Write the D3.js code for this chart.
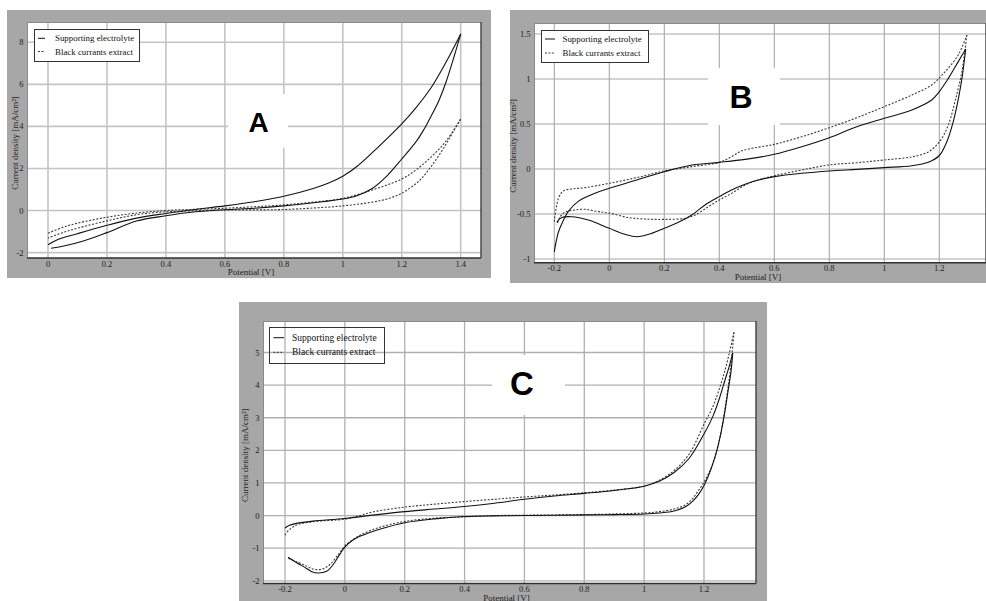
<!DOCTYPE html>
<html>
<head>
<meta charset="utf-8">
<script src="https://cdn.jsdelivr.net/npm/d3@7/dist/d3.min.js"></script>
<style>
  body { margin: 0; background: #ffffff; }
  svg { display: block; }
</style>
</head>
<body>
<svg id="fig" width="986" height="601"></svg>
<script>
// ---------------------------------------------------------------
// Cyclic voltammograms: supporting electrolyte vs. black currants
// extract on three electrodes (panels A, B, C).
// Each curve is stored as two branches of [potential V, current mA/cm2].
// ---------------------------------------------------------------
const seriesNames = ["Supporting electrolyte", "Black currants extract"];
const xTitle = "Potential [V]";
const yTitle = "Current density [mA/cm\u00B2]";

// Panel A
const aLetter = "A";
const aXTicks = [0, 0.2, 0.4, 0.6, 0.8, 1, 1.2, 1.4];
const aYTicks = [-2, 0, 2, 4, 6, 8];
const aElectrolyteUp = [[0,-1.63],[0.03,-1.4],[0.1,-1.1],[0.2,-0.7],[0.3,-0.36],[0.4,-0.14],[0.5,0.05],[0.6,0.22],[0.7,0.42],[0.8,0.68],[0.9,1.05],[0.95,1.3],[1.0,1.63],[1.05,2.12],[1.1,2.75],[1.15,3.42],[1.2,4.12],[1.25,4.92],[1.3,5.85],[1.35,7.05],[1.4,8.4]];
const aElectrolyteDown = [[1.4,8.4],[1.375,7.2],[1.35,6.1],[1.325,5.2],[1.3,4.5],[1.275,3.85],[1.25,3.3],[1.2,2.45],[1.15,1.65],[1.1,1.05],[1.05,0.72],[1.0,0.55],[0.9,0.37],[0.8,0.22],[0.7,0.11],[0.6,0.04],[0.5,-0.06],[0.4,-0.25],[0.3,-0.5],[0.2,-1.05],[0.12,-1.45],[0.05,-1.7],[0.01,-1.79]];
const aExtractUp = [[0,-1.08],[0.05,-0.8],[0.1,-0.6],[0.2,-0.32],[0.3,-0.12],[0.4,0.0],[0.5,0.06],[0.6,0.11],[0.7,0.18],[0.8,0.27],[0.9,0.4],[1.0,0.58],[1.1,0.98],[1.2,1.5],[1.25,1.95],[1.3,2.55],[1.35,3.3],[1.4,4.35]];
const aExtractDown = [[1.4,4.35],[1.375,3.75],[1.35,3.15],[1.325,2.6],[1.3,2.1],[1.275,1.65],[1.25,1.3],[1.2,0.82],[1.15,0.55],[1.1,0.4],[1.0,0.22],[0.9,0.12],[0.8,0.05],[0.7,0.03],[0.6,0.03],[0.5,-0.01],[0.4,-0.06],[0.3,-0.2],[0.2,-0.49],[0.1,-0.84],[0.05,-1.05],[0,-1.31]];

// Panel B
const bLetter = "B";
const bXTicks = [-0.2, 0, 0.2, 0.4, 0.6, 0.8, 1, 1.2];
const bYTicks = [-1, -0.5, 0, 0.5, 1, 1.5];
const bElectrolyteUp = [[-0.2,-0.92],[-0.185,-0.7],[-0.167,-0.57],[-0.149,-0.47],[-0.113,-0.36],[-0.052,-0.27],[0,-0.215],[0.1,-0.122],[0.2,-0.03],[0.3,0.044],[0.4,0.074],[0.494,0.107],[0.6,0.163],[0.7,0.248],[0.8,0.348],[0.9,0.47],[1.0,0.563],[1.1,0.656],[1.172,0.767],[1.2,0.859],[1.233,1.007],[1.269,1.193],[1.296,1.333]];
const bElectrolyteDown = [[1.296,1.333],[1.284,1.04],[1.27,0.79],[1.251,0.53],[1.227,0.3],[1.2,0.15],[1.16,0.075],[1.1,0.037],[1.0,0.015],[0.9,-0.004],[0.8,-0.022],[0.7,-0.048],[0.6,-0.085],[0.542,-0.122],[0.494,-0.17],[0.445,-0.233],[0.4,-0.307],[0.348,-0.4],[0.3,-0.511],[0.251,-0.593],[0.2,-0.659],[0.154,-0.715],[0.1,-0.752],[0.057,-0.726],[0,-0.659],[-0.076,-0.567],[-0.137,-0.53],[-0.173,-0.54],[-0.191,-0.593]];
const bExtractUp = [[-0.2,-0.585],[-0.185,-0.326],[-0.167,-0.244],[-0.137,-0.222],[-0.088,-0.207],[0,-0.159],[0.1,-0.096],[0.2,-0.022],[0.3,0.026],[0.4,0.074],[0.445,0.137],[0.475,0.193],[0.506,0.222],[0.6,0.274],[0.7,0.359],[0.8,0.459],[0.9,0.57],[1.0,0.693],[1.1,0.822],[1.172,0.933],[1.221,1.081],[1.269,1.267],[1.3,1.489]];
const bExtractDown = [[1.3,1.489],[1.282,1.08],[1.257,0.75],[1.233,0.49],[1.2,0.3],[1.16,0.19],[1.1,0.135],[1.0,0.1],[0.9,0.07],[0.8,0.045],[0.7,-0.011],[0.6,-0.075],[0.542,-0.122],[0.494,-0.178],[0.445,-0.27],[0.4,-0.344],[0.36,-0.42],[0.312,-0.511],[0.275,-0.548],[0.2,-0.56],[0.13,-0.556],[0.07,-0.54],[0,-0.49],[-0.04,-0.474],[-0.088,-0.448],[-0.125,-0.455],[-0.161,-0.48],[-0.179,-0.53],[-0.191,-0.622]];

// Panel C
const cLetter = "C";
const cXTicks = [-0.2, 0, 0.2, 0.4, 0.6, 0.8, 1, 1.2];
const cYTicks = [-2, -1, 0, 1, 2, 3, 4, 5];
const cElectrolyteUp = [[-0.2,-0.38],[-0.185,-0.3],[-0.162,-0.24],[-0.107,-0.17],[0,-0.09],[0.1,0.02],[0.2,0.12],[0.3,0.2],[0.4,0.28],[0.5,0.38],[0.6,0.5],[0.7,0.6],[0.8,0.68],[0.9,0.77],[1.0,0.9],[1.05,1.05],[1.1,1.32],[1.15,1.75],[1.2,2.5],[1.23,3.05],[1.25,3.55],[1.27,4.15],[1.285,4.6],[1.296,4.98]];
const cElectrolyteDown = [[1.296,4.98],[1.29,4.4],[1.28,3.8],[1.27,3.2],[1.258,2.6],[1.243,2.0],[1.228,1.55],[1.216,1.25],[1.2,0.92],[1.182,0.65],[1.16,0.42],[1.138,0.27],[1.1,0.14],[1.05,0.08],[1.0,0.05],[0.9,0.03],[0.8,0.02],[0.6,0.0],[0.5,-0.01],[0.4,-0.03],[0.3,-0.1],[0.2,-0.22],[0.116,-0.42],[0.06,-0.6],[0.027,-0.75],[0,-0.97],[-0.017,-1.19],[-0.039,-1.5],[-0.061,-1.71],[-0.09,-1.76],[-0.11,-1.72],[-0.128,-1.62],[-0.162,-1.44],[-0.19,-1.28]];
const cExtractUp = [[-0.2,-0.6],[-0.19,-0.47],[-0.178,-0.38],[-0.162,-0.29],[-0.107,-0.19],[0,-0.11],[0.05,0.0],[0.093,0.11],[0.2,0.26],[0.3,0.35],[0.4,0.43],[0.5,0.5],[0.6,0.57],[0.7,0.63],[0.8,0.7],[0.9,0.78],[1.0,0.9],[1.05,1.08],[1.1,1.38],[1.15,1.88],[1.2,2.8],[1.23,3.35],[1.25,3.85],[1.27,4.45],[1.285,5.0],[1.3,5.62]];
const cExtractDown = [[1.3,5.62],[1.293,4.9],[1.283,4.1],[1.272,3.4],[1.26,2.7],[1.246,2.1],[1.23,1.6],[1.215,1.28],[1.2,1.02],[1.18,0.75],[1.16,0.5],[1.138,0.33],[1.1,0.2],[1.05,0.12],[1.0,0.08],[0.9,0.05],[0.8,0.03],[0.6,0.01],[0.5,0.0],[0.4,-0.04],[0.3,-0.08],[0.2,-0.18],[0.116,-0.36],[0.06,-0.56],[0.03,-0.72],[0,-0.93],[-0.02,-1.17],[-0.05,-1.5],[-0.07,-1.62],[-0.09,-1.66],[-0.11,-1.63],[-0.128,-1.55],[-0.16,-1.42],[-0.19,-1.31]];

// ---------------------------------------------------------------
// Page layout of the three panels (pixels)
// ---------------------------------------------------------------
const panels = [
  {
    letter: aLetter, xTicks: aXTicks, yTicks: aYTicks,
    solid: [aElectrolyteUp, aElectrolyteDown], dashed: [aExtractUp, aExtractDown],
    frame: [7, 10, 491, 278], plot: [27, 22, 481, 258],
    xRange: [48, 460.7], yRange: [252.6, 42.3],
    grid: { color: "#c4c4c4", width: 1.6 },
    letterBox: [228, 94, 288, 148], letterPos: [258.5, 122], letterSize: 28,
    legend: { box: [34, 29, 139, 61], rows: [38.3, 51.5], sample: [38, 45], textX: 55, size: 8.9, fill: "#ffffff" },
    yTitleX: 14.5, xTitleY: 275, xTickY: 267
  },
  {
    letter: bLetter, xTicks: bXTicks, yTicks: bYTicks,
    solid: [bElectrolyteUp, bElectrolyteDown], dashed: [bExtractUp, bExtractDown],
    frame: [510, 10, 992, 283], plot: [534, 23, 986, 262.7],
    xRange: [554.3, 939.3], yRange: [259, 34],
    grid: { color: "#a8a8a8", width: 1.1 },
    letterBox: [708, 68, 780, 125], letterPos: [741, 97], letterSize: 32,
    legend: { box: [541, 30, 648, 62], rows: [39, 53], sample: [545, 555], textX: 562.5, size: 8.9, fill: "#ffffff" },
    yTitleX: 513, xTitleY: 280, xTickY: 271
  },
  {
    letter: cLetter, xTicks: cXTicks, yTicks: cYTicks,
    solid: [cElectrolyteUp, cElectrolyteDown], dashed: [cExtractUp, cExtractDown],
    frame: [239, 302, 767, 612], plot: [263, 321, 756, 583.5],
    xRange: [285, 704], yRange: [580.8, 352.5],
    grid: { color: "#b0b0b0", width: 1.3 },
    letterBox: [492, 355, 565, 415], letterPos: [522, 383], letterSize: 33,
    legend: { box: [269, 327, 384, 363], rows: [337.7, 352.3], sample: [273.5, 284], textX: 292, size: 9.5, fill: "none" },
    yTitleX: 245, xTitleY: 600.5, xTickY: 592
  }
];

const tickText = v => String(Math.round(v * 10) / 10);
const serif = "'Liberation Serif', 'Times New Roman', serif";

const svg = d3.select("#fig");

panels.forEach((p, i) => {
  const g = svg.append("g");
  const [fx0, fy0, fx1, fy1] = p.frame;
  const [px0, py0, px1, py1] = p.plot;

  const x = d3.scaleLinear()
    .domain([p.xTicks[0], p.xTicks[p.xTicks.length - 1]])
    .range(p.xRange);
  const y = d3.scaleLinear()
    .domain([p.yTicks[0], p.yTicks[p.yTicks.length - 1]])
    .range(p.yRange);

  // grey window frame
  g.append("rect")
    .attr("x", fx0).attr("y", fy0)
    .attr("width", fx1 - fx0).attr("height", fy1 - fy0)
    .attr("fill", "#a7a7a7");

  // white plotting area
  g.append("rect")
    .attr("x", px0).attr("y", py0)
    .attr("width", px1 - px0).attr("height", py1 - py0)
    .attr("fill", "#ffffff");

  // grid
  const grid = g.append("g")
    .attr("stroke", p.grid.color)
    .attr("stroke-width", p.grid.width);
  grid.selectAll("line.v").data(p.xTicks).join("line")
    .attr("class", "v")
    .attr("x1", d => x(d)).attr("x2", d => x(d))
    .attr("y1", py0).attr("y2", py1);
  grid.selectAll("line.h").data(p.yTicks).join("line")
    .attr("class", "h")
    .attr("x1", px0).attr("x2", px1)
    .attr("y1", d => y(d)).attr("y2", d => y(d));

  // sunken border of the plotting area
  g.append("line").attr("x1", px0).attr("x2", px1).attr("y1", py0 + 0.5).attr("y2", py0 + 0.5)
    .attr("stroke", "#8a8a8a").attr("stroke-width", 1);
  g.append("line").attr("x1", px0 + 0.5).attr("x2", px0 + 0.5).attr("y1", py0).attr("y2", py1)
    .attr("stroke", "#8a8a8a").attr("stroke-width", 1);
  g.append("line").attr("x1", px0).attr("x2", px1).attr("y1", py1).attr("y2", py1)
    .attr("stroke", "#303030").attr("stroke-width", 1.6);
  g.append("line").attr("x1", px1).attr("x2", px1).attr("y1", py0).attr("y2", py1)
    .attr("stroke", "#404040").attr("stroke-width", 1.4);

  // white patch carrying the panel letter
  const [lx0, ly0, lx1, ly1] = p.letterBox;
  g.append("rect")
    .attr("x", lx0).attr("y", ly0)
    .attr("width", lx1 - lx0).attr("height", ly1 - ly0)
    .attr("fill", "#ffffff");
  g.append("text")
    .attr("x", p.letterPos[0]).attr("y", p.letterPos[1])
    .attr("text-anchor", "middle")
    .attr("dominant-baseline", "central")
    .attr("font-family", "'Liberation Sans', Arial, sans-serif")
    .attr("font-weight", "bold")
    .attr("font-size", p.letterSize)
    .attr("fill", "#000000")
    .text(p.letter);

  // curves, clipped to the plotting area
  const clipId = "clip" + i;
  g.append("clipPath").attr("id", clipId)
    .append("rect")
    .attr("x", px0).attr("y", py0)
    .attr("width", px1 - px0).attr("height", py1 - py0);

  const line = d3.line()
    .x(d => x(d[0]))
    .y(d => y(d[1]))
    .curve(d3.curveCatmullRom.alpha(0.5));

  const curves = g.append("g").attr("clip-path", `url(#${clipId})`).attr("fill", "none");
  curves.selectAll("path.dashed").data(p.dashed).join("path")
    .attr("class", "dashed")
    .attr("d", line)
    .attr("stroke", "#3a3a3a")
    .attr("stroke-width", 1.1)
    .attr("stroke-dasharray", "2,1.6");
  curves.selectAll("path.solid").data(p.solid).join("path")
    .attr("class", "solid")
    .attr("d", line)
    .attr("stroke", "#111111")
    .attr("stroke-width", 1.1);

  // tick labels
  g.append("g").selectAll("text").data(p.xTicks).join("text")
    .attr("x", d => x(d)).attr("y", p.xTickY)
    .attr("text-anchor", "middle")
    .attr("font-family", serif).attr("font-size", 8.5)
    .attr("fill", "#222222")
    .text(tickText);
  g.append("g").selectAll("text").data(p.yTicks).join("text")
    .attr("x", px0 - 3.5).attr("y", d => y(d))
    .attr("text-anchor", "end")
    .attr("dominant-baseline", "central")
    .attr("font-family", serif).attr("font-size", 8.5)
    .attr("fill", "#222222")
    .text(tickText);

  // axis titles
  g.append("text")
    .attr("x", (px0 + px1) / 2 - (i === 1 ? 2 : 3)).attr("y", p.xTitleY)
    .attr("text-anchor", "middle")
    .attr("font-family", serif).attr("font-size", 9)
    .attr("fill", "#222222")
    .text(xTitle);
  g.append("text")
    .attr("transform", `translate(${p.yTitleX},${(py0 + py1) / 2 + 3}) rotate(-90)`)
    .attr("text-anchor", "middle")
    .attr("dominant-baseline", "central")
    .attr("font-family", serif).attr("font-size", 9)
    .attr("fill", "#222222")
    .text(yTitle);

  // legend
  const L = p.legend;
  const lg = g.append("g");
  lg.append("rect")
    .attr("x", L.box[0] + 0.5).attr("y", L.box[1] + 0.5)
    .attr("width", L.box[2] - L.box[0]).attr("height", L.box[3] - L.box[1])
    .attr("fill", L.fill)
    .attr("stroke", "#333333").attr("stroke-width", 1);
  seriesNames.forEach((name, k) => {
    lg.append("line")
      .attr("x1", L.sample[0]).attr("x2", L.sample[1])
      .attr("y1", L.rows[k]).attr("y2", L.rows[k])
      .attr("stroke", k === 0 ? "#111111" : "#3a3a3a")
      .attr("stroke-width", 1)
      .attr("stroke-dasharray", k === 0 ? null : "2,1.4");
    lg.append("text")
      .attr("x", L.textX).attr("y", L.rows[k])
      .attr("dominant-baseline", "central")
      .attr("font-family", serif).attr("font-size", L.size)
      .attr("fill", "#111111")
      .text(name);
  });
});
</script>
</body>
</html>
